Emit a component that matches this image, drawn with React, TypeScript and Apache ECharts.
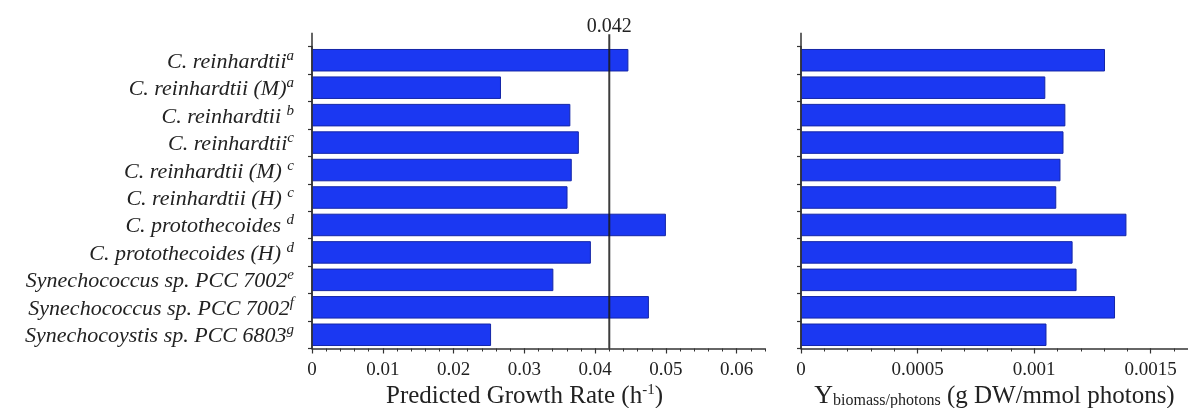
import React, { useEffect, useRef } from "react";
import * as echarts from "echarts";

const categories = [
  "C. reinhardtii",
  "C. reinhardtii (M)",
  "C. reinhardtii ",
  "C. reinhardtii",
  "C. reinhardtii (M) ",
  "C. reinhardtii (H) ",
  "C. protothecoides ",
  "C. protothecoides (H) ",
  "Synechococcus sp. PCC 7002",
  "Synechococcus sp. PCC 7002",
  "Synechocoystis sp. PCC 6803",
];
const superscripts = ["a", "a", "b", "c", "c", "c", "d", "d", "e", "f", "g"];
const growthRate = [0.0447, 0.0267, 0.0365, 0.0377, 0.0367, 0.0361, 0.05, 0.0394, 0.0341, 0.0476, 0.0253];
const biomassYield = [0.001304, 0.001048, 0.001134, 0.001126, 0.001113, 0.001095, 0.001396, 0.001165, 0.001182, 0.001347, 0.001053];
const referenceRate = 0.042;
const referenceLabel = "0.042";
const growthAxis = { min: 0, max: 0.064, major: 0.01, minor: 0.002 };
const yieldAxis = { min: 0, max: 0.00166, major: 0.0005, minor: 0.0001 };

const FONT = "Liberation Serif";
const TEXT = "#222";
const AXIS = "#333";
const BAR = "#1b38f2";
const BAR_EDGE = "#1426a8";

export default function App() {
  const ref = useRef<HTMLDivElement>(null);
  useEffect(() => {
    if (!ref.current) return;
    const chart = echarts.init(ref.current, null, { renderer: "svg" });
    const gridTop = 46.5;
    const gridBottom = 59.5;
    const axisLine = { show: true, lineStyle: { color: AXIS, width: 1.5 } };
    const majorLabel = {
      fontFamily: FONT,
      fontSize: 19,
      color: TEXT,
      margin: 10,
      showMaxLabel: false,
    };
    const option: any = {
      animation: false,
      grid: [
        { left: 312, right: 1188 - 765, top: gridTop, bottom: gridBottom, containLabel: false, outerBoundsMode: "none" },
        { left: 801, right: 0, top: gridTop, bottom: gridBottom, containLabel: false, outerBoundsMode: "none" },
      ],
      xAxis: [
        {
          gridIndex: 0,
          type: "value",
          position: "bottom",
          min: growthAxis.min,
          max: growthAxis.max,
          interval: growthAxis.major,
          axisLine,
          axisTick: { show: true, length: 5, lineStyle: { color: AXIS, width: 1.2 } },
          axisLabel: majorLabel,
          splitLine: { show: false },
          name: "{m|Predicted Growth Rate (h}{sup|-1}{m|)}",
          nameLocation: "middle",
          nameGap: 33,
          nameMoveOverlap: false,
          nameTextStyle: {
            fontFamily: FONT,
            fontSize: 25,
            color: TEXT,
            padding: [0, 28, 0, 0],
            rich: {
              m: { fontFamily: FONT, fontSize: 25, lineHeight: 26, color: TEXT },
              sup: { fontFamily: FONT, fontSize: 15, lineHeight: 15, verticalAlign: "top", color: TEXT },
            },
          },
        },
        {
          gridIndex: 0,
          type: "value",
          position: "bottom",
          min: growthAxis.min,
          max: growthAxis.max,
          interval: growthAxis.minor,
          axisLine: { show: false },
          axisTick: { show: true, length: 3, lineStyle: { color: AXIS, width: 1 } },
          axisLabel: { show: false },
          splitLine: { show: false },
        },
        {
          gridIndex: 1,
          type: "value",
          position: "bottom",
          min: yieldAxis.min,
          max: yieldAxis.max,
          interval: yieldAxis.major,
          axisLine,
          axisTick: { show: true, length: 5, lineStyle: { color: AXIS, width: 1.2 } },
          axisLabel: majorLabel,
          splitLine: { show: false },
          name: "{Y|Y}{sub|biomass/photons}{m| (g DW/mmol photons)}",
          nameLocation: "middle",
          nameGap: 33,
          nameMoveOverlap: false,
          nameTextStyle: {
            fontFamily: FONT,
            fontSize: 25,
            color: TEXT,
            rich: {
              Y: { fontFamily: FONT, fontSize: 26, lineHeight: 26, color: TEXT },
              m: { fontFamily: FONT, fontSize: 25, lineHeight: 26, color: TEXT },
              sub: { fontFamily: FONT, fontSize: 16, lineHeight: 13, verticalAlign: "bottom", color: TEXT },
            },
          },
        },
        {
          gridIndex: 1,
          type: "value",
          position: "bottom",
          min: yieldAxis.min,
          max: yieldAxis.max,
          interval: yieldAxis.minor,
          axisLine: { show: false },
          axisTick: { show: true, length: 3, lineStyle: { color: AXIS, width: 1 } },
          axisLabel: { show: false },
          splitLine: { show: false },
        },
      ],
      yAxis: [
        {
          gridIndex: 0,
          type: "category",
          inverse: true,
          data: categories,
          axisLine,
          axisTick: { show: true, inside: false, length: 4, lineStyle: { color: AXIS, width: 1.2 } },
          axisLabel: {
            margin: 18,
            formatter: (v: string, i: number) => `{n|${v}}{s|${superscripts[i]}}`,
            rich: {
              n: { fontFamily: FONT, fontStyle: "italic", fontSize: 22, lineHeight: 26, color: TEXT },
              s: { fontFamily: FONT, fontStyle: "italic", fontSize: 15, lineHeight: 20, verticalAlign: "top", color: TEXT },
            },
          },
          splitLine: { show: false },
        },
        {
          gridIndex: 1,
          type: "category",
          inverse: true,
          data: categories,
          axisLine,
          axisTick: { show: true, inside: false, length: 4, lineStyle: { color: AXIS, width: 1.2 } },
          axisLabel: { show: false },
          splitLine: { show: false },
        },
      ],
      series: [
        {
          type: "bar",
          xAxisIndex: 0,
          yAxisIndex: 0,
          data: growthRate,
          barCategoryGap: "18%",
          itemStyle: { color: BAR, borderColor: BAR_EDGE, borderWidth: 1 },
        },
        {
          type: "bar",
          xAxisIndex: 2,
          yAxisIndex: 1,
          data: biomassYield,
          barCategoryGap: "18%",
          itemStyle: { color: BAR, borderColor: BAR_EDGE, borderWidth: 1 },
        },
      ],
    };
    chart.setOption(option);

    const yFirst = chart.convertToPixel({ yAxisIndex: 0 }, 0) as number;
    const ySecond = chart.convertToPixel({ yAxisIndex: 0 }, 1) as number;
    const yLast = chart.convertToPixel({ yAxisIndex: 0 }, categories.length - 1) as number;
    const band = ySecond - yFirst;
    const top = yFirst - band;
    const bottom = yLast + band / 2;
    const xLeft0 = chart.convertToPixel({ xAxisIndex: 0 }, 0) as number;
    const xRight0 = chart.convertToPixel({ xAxisIndex: 2 }, 0) as number;
    const xRef = chart.convertToPixel({ xAxisIndex: 0 }, referenceRate) as number;

    chart.setOption({
      graphic: [
        { type: "line", shape: { x1: xLeft0, y1: top, x2: xLeft0, y2: bottom }, style: { stroke: AXIS, lineWidth: 1.5 }, z: 10 },
        { type: "line", shape: { x1: xRight0, y1: top, x2: xRight0, y2: bottom }, style: { stroke: AXIS, lineWidth: 1.5 }, z: 10 },
        { type: "line", shape: { x1: xRef, y1: top + 1.5, x2: xRef, y2: bottom }, style: { stroke: "#1a1a1a", lineWidth: 2, opacity: 0.85 }, z: 10 },
        {
          type: "text",
          x: xRef,
          y: top - 7.5,
          style: { text: referenceLabel, fontFamily: FONT, fontSize: 20, fill: TEXT, align: "center", verticalAlign: "middle" },
          z: 10,
        },
      ],
    });

    return () => chart.dispose();
  }, []);
  return <div ref={ref} style={{ position: "fixed", left: 0, top: 0, width: 1188, height: 408 }} />;
}
